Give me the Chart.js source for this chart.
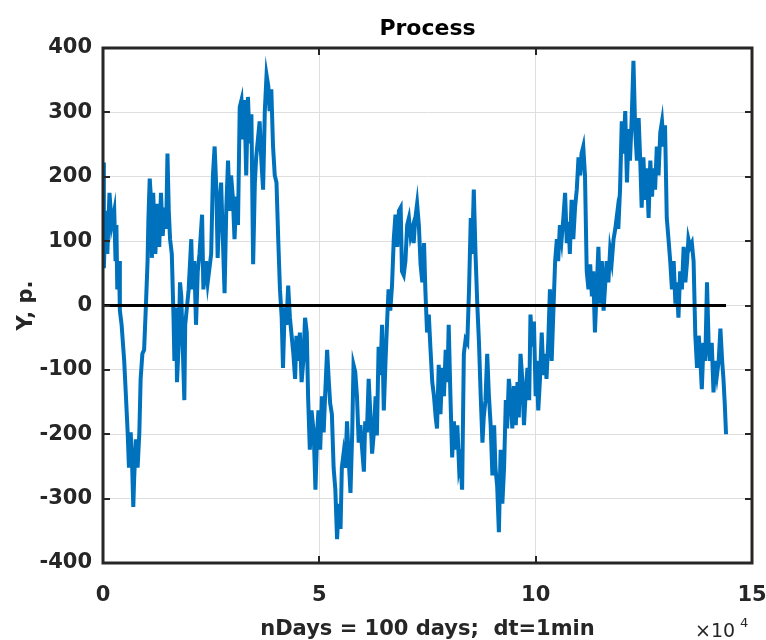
<!DOCTYPE html>
<html>
<head>
<meta charset="utf-8">
<title>Process</title>
<script src="https://cdn.jsdelivr.net/npm/chart.js@4.4.1/dist/chart.umd.min.js"></script>
<style>
  html,body{margin:0;padding:0;background:#fff;}
  #wrap{position:relative;width:766px;height:640px;}
</style>
</head>
<body>
<div id="wrap"><canvas id="cv" width="766" height="640"></canvas></div>
<script>
'use strict';

/* time axis in units of 1e4 minutes */
var timeX=[
  0.00,0.02,0.06,0.10,0.15,0.20,0.26,0.29,0.31,0.33,0.37,0.39,0.43,0.46,0.49,0.53,0.57,0.60,0.64,0.67,
  0.70,0.72,0.76,0.80,0.84,0.87,0.91,0.95,0.99,1.03,1.05,1.08,1.11,1.13,1.16,1.21,1.26,1.30,1.34,1.38,
  1.42,1.46,1.49,1.52,1.55,1.59,1.63,1.65,1.69,1.71,1.75,1.78,1.81,1.84,1.88,1.90,1.98,2.04,2.07,2.11,
  2.15,2.19,2.23,2.29,2.32,2.38,2.42,2.50,2.54,2.58,2.62,2.65,2.69,2.73,2.77,2.81,2.85,2.89,2.93,2.96,
  3.00,3.04,3.08,3.12,3.16,3.20,3.24,3.27,3.31,3.35,3.39,3.43,3.47,3.51,3.54,3.58,3.62,3.66,3.70,3.74,
  3.78,3.82,3.85,3.89,3.93,3.97,4.01,4.05,4.09,4.13,4.16,4.20,4.24,4.28,4.32,4.36,4.40,4.44,4.47,4.51,
  4.55,4.59,4.63,4.67,4.71,4.74,4.78,4.82,
  4.87,4.91,4.95,4.98,5.02,5.06,5.10,5.14,5.18,5.22,5.25,5.29,5.33,5.37,5.41,5.45,5.49,5.52,5.56,5.60,
  5.64,5.68,5.72,5.76,5.79,5.83,5.87,5.91,5.95,5.99,6.03,6.06,6.10,6.14,6.18,6.22,6.26,6.30,6.33,6.37,
  6.41,6.45,6.49,6.53,6.57,6.60,6.64,6.68,6.72,6.76,6.80,6.84,6.88,6.91,6.95,6.99,7.03,7.07,7.11,7.15,
  7.18,7.22,7.26,7.30,7.34,7.38,7.42,7.45,7.49,7.53,7.57,7.61,7.65,7.69,7.72,7.76,7.80,7.84,7.88,7.92,
  7.96,7.99,8.03,8.07,8.11,8.15,8.19,8.23,8.26,8.30,8.34,8.38,8.42,8.46,8.50,8.53,8.57,8.61,8.65,8.69,
  8.73,8.77,8.80,8.84,8.88,8.92,8.96,9.00,9.04,9.07,9.11,9.15,9.19,9.23,9.27,9.31,9.34,9.38,9.42,9.46,
  9.50,9.54,9.58,9.61,9.65,9.69,9.73,9.77,9.81,9.85,9.88,9.92,9.96,10.00,
  10.02,10.06,10.10,10.14,10.18,10.22,10.25,10.29,10.33,10.37,10.41,10.45,10.49,10.52,10.56,10.60,10.64,10.68,10.72,10.76,
  10.79,10.83,10.87,10.91,10.95,10.99,11.03,11.06,11.10,11.14,11.18,11.22,11.26,11.30,11.33,11.37,11.41,11.45,11.49,11.53,
  11.57,11.60,11.64,11.68,11.72,11.76,11.80,11.84,11.88,11.91,11.95,11.99,12.03,12.07,12.11,12.15,12.18,12.22,12.26,12.30,
  12.34,12.38,12.42,12.45,12.49,12.53,12.57,12.61,12.65,12.69,12.72,12.76,12.80,12.84,12.88,12.92,12.96,12.99,13.03,13.07,
  13.11,13.15,13.19,13.23,13.26,13.30,13.34,13.38,13.42,13.46,13.50,13.53,13.57,13.61,13.65,13.69,13.73,13.77,13.80,13.84,
  13.88,13.92,13.96,14.00,14.03,14.07,14.11,14.15,14.19,14.23,14.27,14.31,14.34,14.37,14.40
];
var processY=[
  222,58,147,80,175,125,147,69,125,25,69,-8,-30,-58,-86,-141,-197,-252,-197,-241,
  -313,-269,-208,-252,-197,-114,-75,-69,-3,69,136,197,164,74,175,80,158,91,175,108,
  152,119,236,147,103,80,-19,-86,-3,-119,-58,36,14,-58,-147,-30,25,103,25,69,
  -30,53,80,141,25,69,36,80,202,247,180,74,152,191,103,19,152,225,147,202,
  169,103,169,125,308,319,258,319,202,324,252,297,64,191,230,258,286,225,180,302,
  358,341,302,336,247,202,191,103,25,-19,-97,-3,-30,31,-19,-47,-75,-114,-47,-86,
  -42,-119,-86,-19,-42,-141,-224,-163,
  -197,-286,-197,-163,-224,-141,-197,-130,-69,-119,-152,-169,-252,-286,-363,-308,-347,-252,-230,-252,
  -180,-241,-291,-197,-92,-103,-141,-213,-186,-224,-258,-180,-197,-114,-169,-230,-197,-141,-202,-64,
  -108,-30,-163,-86,-19,25,-8,31,103,141,91,147,152,53,47,69,125,136,108,119,
  97,136,158,125,64,36,97,25,-42,-14,-69,-119,-141,-174,-191,-92,-169,-97,-141,-69,
  -119,-30,-141,-236,-180,-224,-186,-252,-241,-286,-75,-53,-58,25,136,80,180,80,3,-58,
  -141,-213,-174,-147,-75,-141,-186,-264,-186,-252,-280,-352,-224,-308,-252,-147,-191,-114,-141,-191,
  -125,-186,-119,-174,-75,-114,-186,-135,-97,-147,-14,-64,-25,-141,
  -86,-163,-114,-42,-108,-75,-114,-58,25,-86,-8,69,103,69,125,103,136,175,97,130,
  80,164,103,152,180,230,202,236,247,202,53,25,64,14,53,-42,25,91,3,69,
  -8,25,69,36,86,69,103,119,141,119,180,286,236,302,191,274,225,291,380,274,
  225,291,219,152,230,164,213,136,225,169,213,180,247,202,269,286,247,280,136,103,
  69,25,69,3,36,-19,53,25,91,36,69,103,91,97,69,-47,-97,-47,-75,-130,
  -58,-86,36,-64,-86,-58,-135,-86,-108,-86,-36,-86,-114,-152,-200
];
var zeroX=[0,14.4];
var zeroY=[0,0];
var xTicks=[0,5,10,15];
var yTicks=[-400,-300,-200,-100,0,100,200,300,400];

var FONT='"DejaVu Sans"';
var TXT='#262626';

function pts(xs,ys){
  var out=[];
  for(var i=0;i<xs.length;i++)out.push({x:xs[i],y:ys[i]});
  return out;
}

/* box, inward ticks and the labels MATLAB puts around the axes */
var matlabFrame={
  id:'matlabFrame',
  afterDatasetsDraw:function(chart){
    var c=chart.ctx,a=chart.chartArea,sx=chart.scales.x,sy=chart.scales.y;
    c.save();
    c.strokeStyle='#262626';c.lineWidth=2;
    c.beginPath();
    var i,p;
    for(i=0;i<xTicks.length;i++){
      p=Math.round(sx.getPixelForValue(xTicks[i]));
      c.moveTo(p,a.bottom);c.lineTo(p,a.bottom-7);
      c.moveTo(p,a.top);c.lineTo(p,a.top+7);
    }
    for(i=0;i<yTicks.length;i++){
      p=Math.round(sy.getPixelForValue(yTicks[i]));
      c.moveTo(a.left,p);c.lineTo(a.left+7,p);
      c.moveTo(a.right,p);c.lineTo(a.right-7,p);
    }
    c.stroke();
    c.lineWidth=3;
    c.strokeRect(a.left,a.top,a.right-a.left,a.bottom-a.top);
    c.restore();
  },
  afterDraw:function(chart){
    var c=chart.ctx,a=chart.chartArea;
    var cx=(a.left+a.right)/2;
    c.save();
    c.fillStyle='#000';
    c.textAlign='center';c.textBaseline='alphabetic';
    c.font='bold 22px '+FONT;
    c.fillText('Process',cx,35);
    c.font='bold 21px '+FONT;
    c.fillStyle=TXT;
    c.fillText('nDays = 100 days;  dt=1min',cx,635);
    c.save();
    c.translate(32,(a.top+a.bottom)/2);
    c.rotate(-Math.PI/2);
    c.fillText('Y, p.',0,0);
    c.restore();
    c.textAlign='left';
    c.font='19px '+FONT;
    c.fillText('\u00d710',695,637);
    c.font='13px '+FONT;
    c.fillText('4',740,627);
    c.restore();
  }
};

new Chart(document.getElementById('cv'),{
  type:'line',
  data:{
    datasets:[
      {data:pts(zeroX,zeroY),borderColor:'#000',borderWidth:3,pointRadius:0,tension:0},
      {data:pts(timeX,processY),borderColor:'#0072BD',borderWidth:4,pointRadius:0,tension:0}
    ]
  },
  options:{
    responsive:false,animation:false,
    layout:{padding:{left:0,right:14,top:48,bottom:0}},
    plugins:{legend:{display:false},tooltip:{enabled:false},title:{display:false}},
    scales:{
      x:{
        type:'linear',min:0,max:15,
        afterFit:function(s){s.height=77;s.paddingLeft=0;s.paddingRight=0;},
        afterBuildTicks:function(s){s.ticks=xTicks.map(function(v){return{value:v};});},
        grid:{color:'#dedede',lineWidth:1,drawTicks:false},
        border:{display:false},
        ticks:{padding:20,color:TXT,font:{family:FONT,size:21,weight:'bold'},maxRotation:0}
      },
      y:{
        type:'linear',min:-400,max:400,
        afterFit:function(s){s.width=103;s.paddingTop=0;s.paddingBottom=0;},
        afterBuildTicks:function(s){s.ticks=yTicks.map(function(v){return{value:v};});},
        grid:{color:'#dedede',lineWidth:1,drawTicks:false},
        border:{display:false},
        ticks:{padding:11,color:TXT,font:{family:FONT,size:21,weight:'bold'}}
      }
    }
  },
  plugins:[matlabFrame]
});
</script>
</body>
</html>
